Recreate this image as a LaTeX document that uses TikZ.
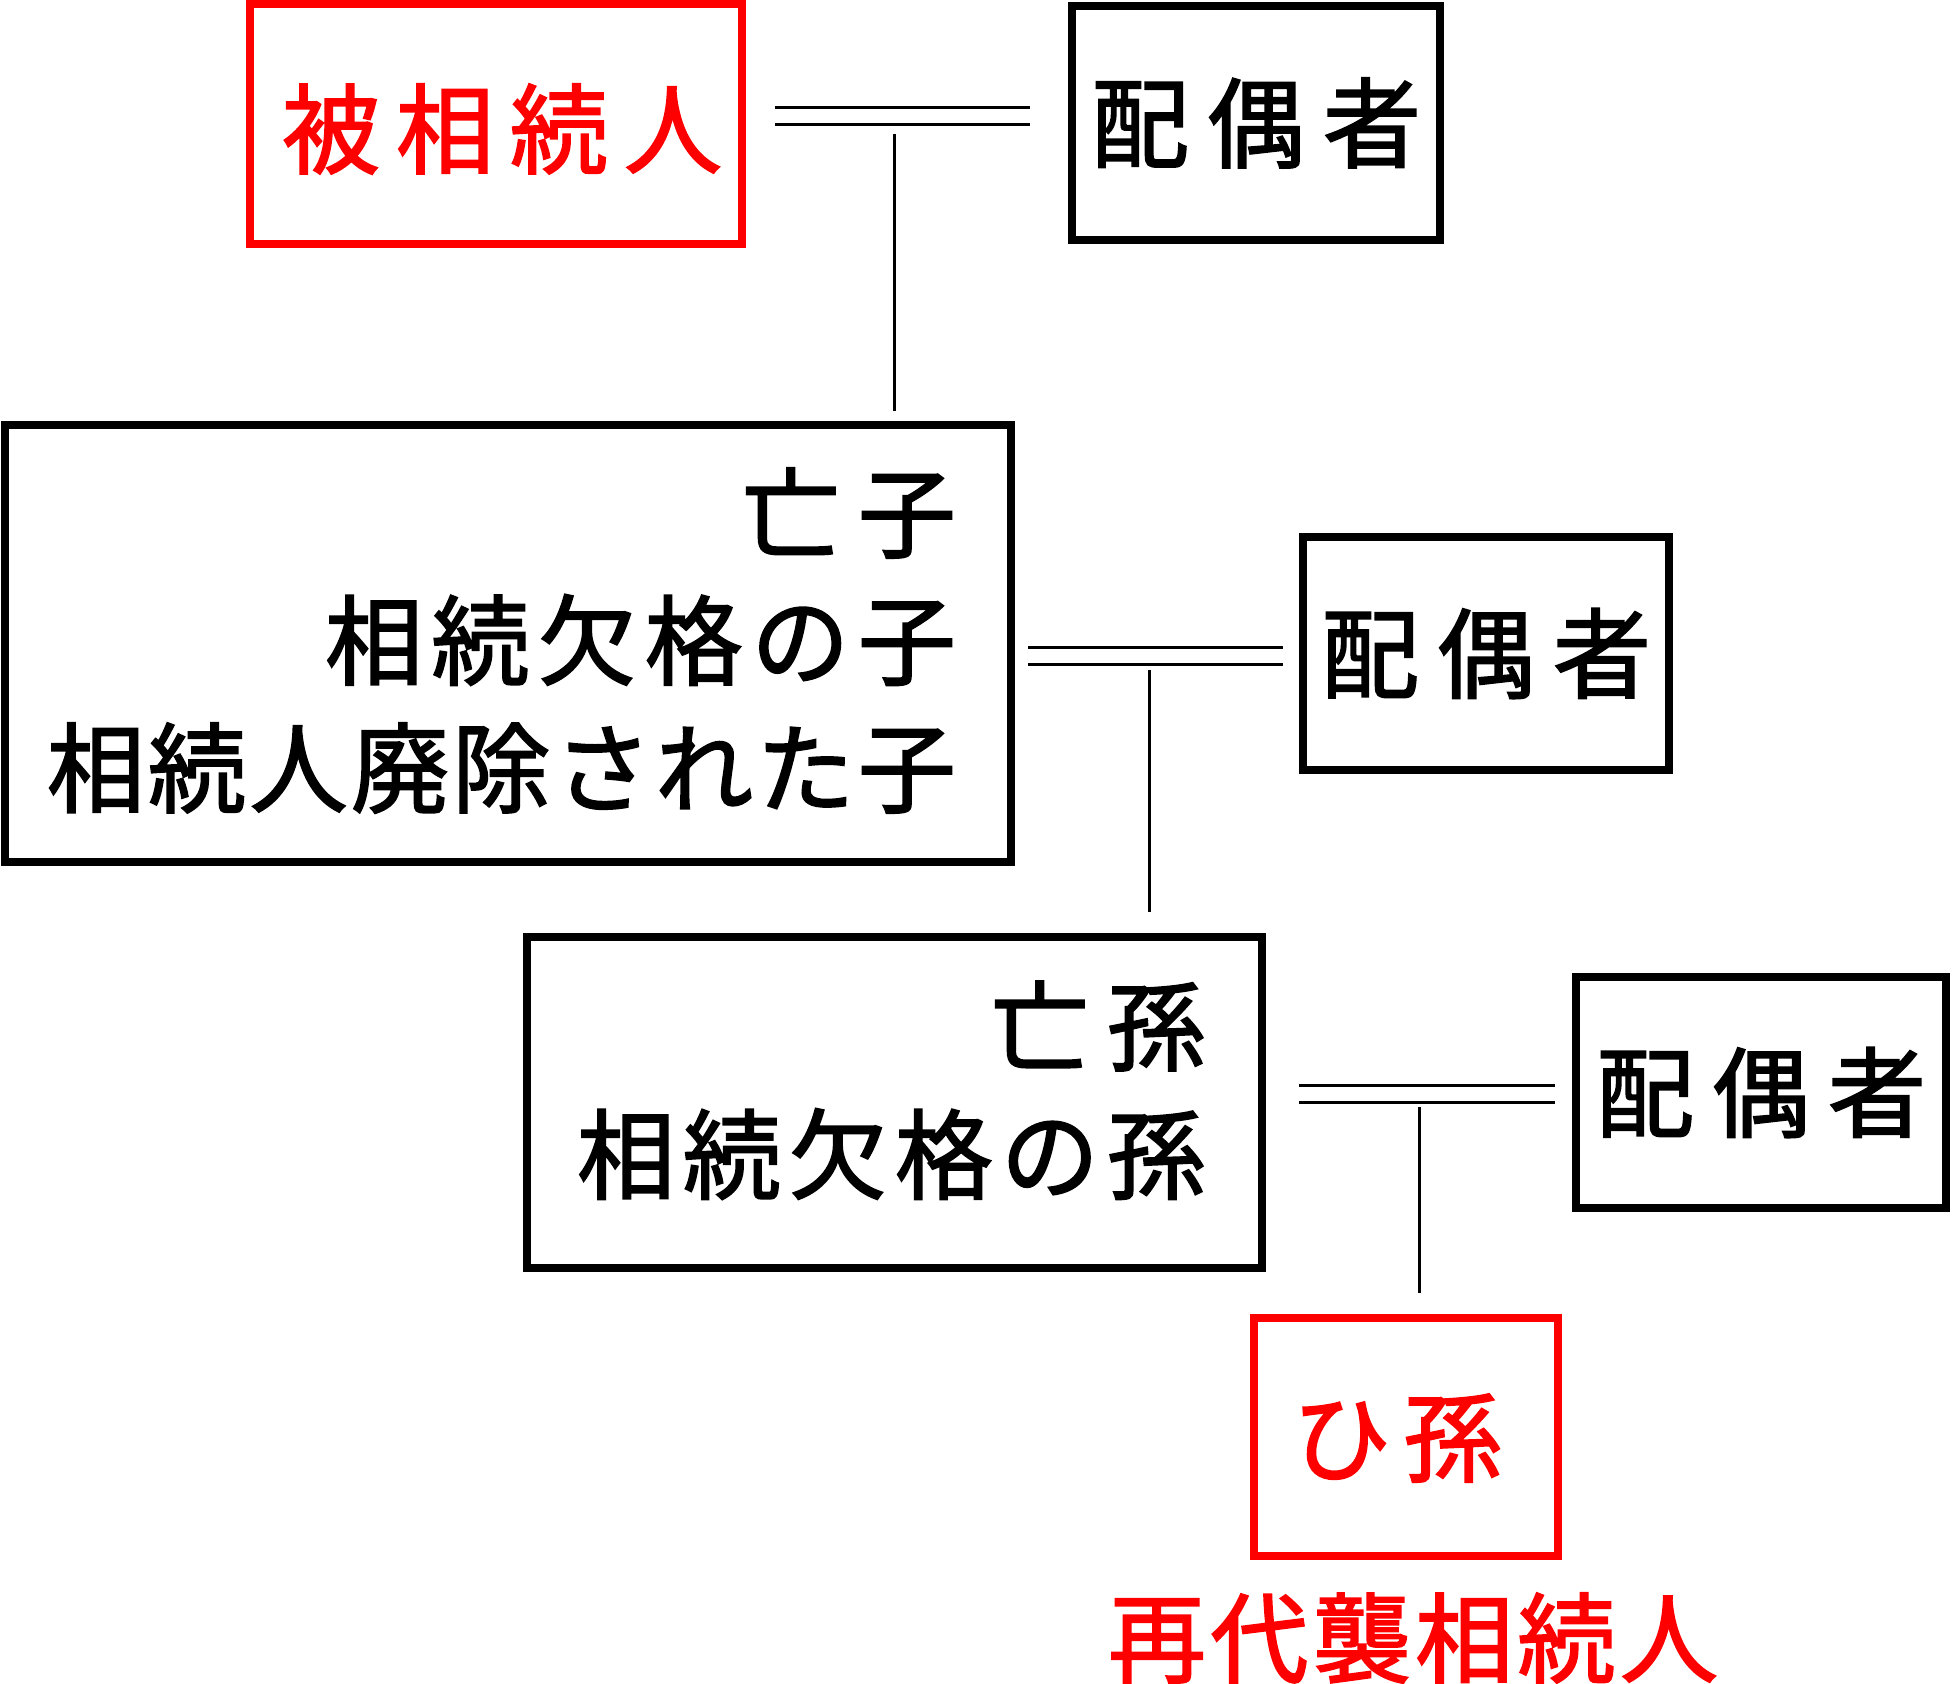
\documentclass[tikz,border=0pt]{standalone}
\usepackage{fontspec}
\setmainfont{Noto Sans CJK JP}[FakeBold=1.8]
\begin{document}
\begin{tikzpicture}[x=0.5pt,y=-0.5pt,
  box/.style={draw=black,line width=3.8pt,inner sep=0pt,outer sep=0pt,font=\fontsize{49pt}{58pt}\selectfont},
  redbox/.style={box,draw=red,text=red},
  txt/.style={inner sep=0pt,outer sep=0pt,font=\fontsize{49pt}{58pt}\selectfont},
  redtxt/.style={txt,text=red},
  marriage/.style={draw=black,double=white,line width=1.5pt,double distance=7pt},
  descent/.style={draw=black,line width=1.5pt}]
\useasboundingbox (0,0) rectangle (1952,1683);
% boxes
\node[redbox,minimum width=246pt,minimum height=120pt] (b1) at (496,124) {};
\node[redtxt] (b1t) at (502,129) {被\kern8pt相\kern8pt続\kern8pt人};
\node[box,minimum width=184pt,minimum height=117pt] (s1) at (1256,123) {配\kern9pt偶\kern9pt者};
\node[box,minimum width=503pt,minimum height=218.5pt] (c) at (508,643.5) {};
\node[box,minimum width=183pt,minimum height=116.5pt] (s2) at (1486,653.5) {配\kern9pt偶\kern9pt者};
\node[box,minimum width=367.5pt,minimum height=165.5pt] (gc) at (894.5,1102.5) {};
\node[box,minimum width=185pt,minimum height=115.5pt] (s3) at (1761,1092.5) {配\kern9pt偶\kern9pt者};
\node[redbox,minimum width=152pt,minimum height=119pt] (h) at (1406,1437) {};
\node[redtxt] (ht) at (1397,1438) {ひ\kern6.5pt孫};
% texts in the multi-line boxes
\node[txt,anchor=east] (c1) at (956,513) {亡\kern9pt子};
\node[txt,anchor=east] (c2) at (956,640) {相\kern4.3pt続\kern4.3pt欠\kern4.3pt格\kern4.3ptの\kern4.3pt子};
\node[txt,anchor=east] (c3) at (956,768) {相\kern1.7pt続\kern1.7pt人\kern1.7pt廃\kern1.7pt除\kern1.7ptさ\kern1.7ptれ\kern1.7ptた\kern1.7pt子};
\node[txt,anchor=east] (g1) at (1205,1026) {亡\kern9pt孫};
\node[txt,anchor=east] (g2) at (1205,1154) {相\kern4pt続\kern4pt欠\kern4pt格\kern4ptの\kern4pt孫};
\node[redtxt] (lab) at (1413,1638) {再\kern2.2pt代\kern2.2pt襲\kern2.2pt相\kern2.2pt続\kern2.2pt人};
% marriage lines
\draw[marriage] ([shift={(33,-8.5)}]b1.east) -- ([shift={(-42,-7.5)}]s1.west);
\draw[marriage] ([shift={(17,12.5)}]c.east) -- ([shift={(-20,2.5)}]s2.west);
\draw[marriage] ([shift={(37,-8.5)}]gc.east) -- ([shift={(-21,1.5)}]s3.west);
% descent lines
\coordinate (j1) at (894,134);
\coordinate (j2) at (1149,670);
\coordinate (j3) at (1419,1107);
\draw[descent,shorten >=7pt] (j1) -- (j1 |- c.north);
\draw[descent,shorten >=12.5pt] (j2) -- (j2 |- gc.north);
\draw[descent,shorten >=12.5pt] (j3) -- (j3 |- h.north);
\end{tikzpicture}
\end{document}
